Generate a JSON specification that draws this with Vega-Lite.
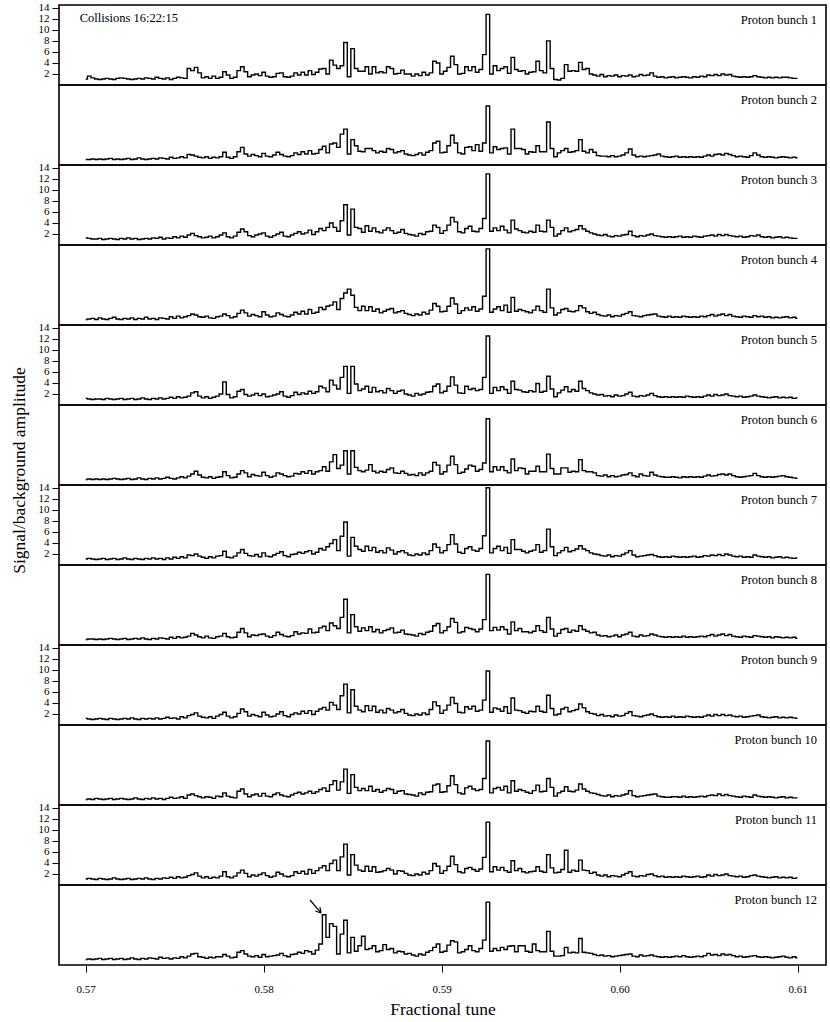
{
"$schema":"https://vega.github.io/schema/vega-lite/v6.json",
"background":"white",
"padding":{"left":9,"top":0,"right":3,"bottom":4},
"bounds":"flush",
"spacing":0,
"config":{"font":"Liberation Serif","view":{"stroke":"black","strokeWidth":1.6},
"axis":{"labelFont":"Liberation Serif","titleFont":"Liberation Serif","labelColor":"black","titleColor":"black","tickColor":"black","domain":false,"grid":false,"labelFontSize":11,"tickSize":7,"labelPadding":3,"titleFontWeight":"normal","titleFontSize":17.5,"labelOverlap":false,"labelBound":false},
"text":{"font":"Liberation Serif","color":"black","fontSize":12.5}},
"datasets":{"d":[
{"x":0.5700,"p1":1.1,"p2":1.0,"p3":1.3,"p4":1.0,"p5":1.2,"p6":1.0,"p7":1.1,"p8":1.0,"p9":1.2,"p10":1.0,"p11":1.1,"p12":1.0},
{"x":0.5702,"p1":1.6,"p2":1.0,"p3":1.2,"p4":1.1,"p5":1.1,"p6":1.1,"p7":1.2,"p8":1.1,"p9":1.1,"p10":1.1,"p11":1.2,"p12":1.1},
{"x":0.5704,"p1":1.3,"p2":1.1,"p3":1.1,"p4":1.2,"p5":1.0,"p6":1.0,"p7":1.1,"p8":1.1,"p9":1.0,"p10":1.0,"p11":1.1,"p12":1.0},
{"x":0.5706,"p1":1.1,"p2":1.0,"p3":1.1,"p4":1.0,"p5":1.1,"p6":1.1,"p7":1.0,"p8":1.0,"p9":1.1,"p10":1.2,"p11":1.0,"p12":1.1},
{"x":0.5708,"p1":1.0,"p2":1.1,"p3":1.2,"p4":1.3,"p5":1.1,"p6":1.0,"p7":1.1,"p8":1.1,"p9":1.2,"p10":1.1,"p11":1.2,"p12":1.2},
{"x":0.5710,"p1":1.1,"p2":1.0,"p3":1.0,"p4":1.1,"p5":1.0,"p6":1.1,"p7":1.2,"p8":1.0,"p9":1.1,"p10":1.0,"p11":1.1,"p12":1.0},
{"x":0.5712,"p1":1.2,"p2":1.1,"p3":1.1,"p4":1.0,"p5":1.2,"p6":1.0,"p7":1.0,"p8":1.1,"p9":1.0,"p10":1.1,"p11":1.0,"p12":1.1},
{"x":0.5714,"p1":1.1,"p2":1.2,"p3":1.2,"p4":1.2,"p5":1.1,"p6":1.1,"p7":1.1,"p8":1.2,"p9":1.2,"p10":1.2,"p11":1.1,"p12":1.2},
{"x":0.5716,"p1":1.0,"p2":1.0,"p3":1.1,"p4":1.4,"p5":1.0,"p6":1.2,"p7":1.2,"p8":1.1,"p9":1.1,"p10":1.0,"p11":1.3,"p12":1.0},
{"x":0.5718,"p1":1.2,"p2":1.1,"p3":1.0,"p4":1.1,"p5":1.1,"p6":1.1,"p7":1.0,"p8":1.0,"p9":1.0,"p10":1.1,"p11":1.1,"p12":1.1},
{"x":0.5720,"p1":1.3,"p2":1.0,"p3":1.2,"p4":1.0,"p5":1.2,"p6":1.0,"p7":1.1,"p8":1.1,"p9":1.1,"p10":1.2,"p11":1.0,"p12":1.2},
{"x":0.5722,"p1":1.2,"p2":1.1,"p3":1.1,"p4":1.2,"p5":1.0,"p6":1.1,"p7":1.3,"p8":1.2,"p9":1.2,"p10":1.1,"p11":1.1,"p12":1.0},
{"x":0.5724,"p1":1.1,"p2":1.2,"p3":1.3,"p4":1.1,"p5":1.1,"p6":1.2,"p7":1.1,"p8":1.0,"p9":1.1,"p10":1.0,"p11":1.2,"p12":1.1},
{"x":0.5726,"p1":1.0,"p2":1.0,"p3":1.1,"p4":1.3,"p5":1.2,"p6":1.0,"p7":1.0,"p8":1.1,"p9":1.3,"p10":1.1,"p11":1.0,"p12":1.3},
{"x":0.5728,"p1":1.1,"p2":1.1,"p3":1.2,"p4":1.0,"p5":1.0,"p6":1.1,"p7":1.2,"p8":1.2,"p9":1.1,"p10":1.3,"p11":1.1,"p12":1.1},
{"x":0.5730,"p1":1.2,"p2":1.3,"p3":1.0,"p4":1.2,"p5":1.1,"p6":1.3,"p7":1.1,"p8":1.1,"p9":1.0,"p10":1.1,"p11":1.2,"p12":1.0},
{"x":0.5732,"p1":1.1,"p2":1.1,"p3":1.1,"p4":1.1,"p5":1.3,"p6":1.1,"p7":1.0,"p8":1.3,"p9":1.2,"p10":1.0,"p11":1.1,"p12":1.2},
{"x":0.5734,"p1":1.3,"p2":1.0,"p3":1.2,"p4":1.4,"p5":1.1,"p6":1.0,"p7":1.2,"p8":1.1,"p9":1.1,"p10":1.2,"p11":1.3,"p12":1.1},
{"x":0.5736,"p1":1.2,"p2":1.1,"p3":1.1,"p4":1.1,"p5":1.0,"p6":1.2,"p7":1.1,"p8":1.0,"p9":1.2,"p10":1.1,"p11":1.1,"p12":1.3},
{"x":0.5738,"p1":1.1,"p2":1.2,"p3":1.3,"p4":1.2,"p5":1.2,"p6":1.1,"p7":1.3,"p8":1.2,"p9":1.1,"p10":1.3,"p11":1.0,"p12":1.2},
{"x":0.5740,"p1":1.4,"p2":1.1,"p3":1.2,"p4":1.0,"p5":1.1,"p6":1.3,"p7":1.1,"p8":1.1,"p9":1.3,"p10":1.1,"p11":1.2,"p12":1.1},
{"x":0.5742,"p1":1.2,"p2":1.3,"p3":1.4,"p4":1.3,"p5":1.3,"p6":1.1,"p7":1.2,"p8":1.3,"p9":1.1,"p10":1.2,"p11":1.1,"p12":1.4},
{"x":0.5744,"p1":1.1,"p2":1.2,"p3":1.1,"p4":1.2,"p5":1.1,"p6":1.2,"p7":1.0,"p8":1.2,"p9":1.2,"p10":1.0,"p11":1.3,"p12":1.2},
{"x":0.5746,"p1":1.3,"p2":1.1,"p3":1.3,"p4":1.1,"p5":1.2,"p6":1.4,"p7":1.3,"p8":1.1,"p9":1.4,"p10":1.2,"p11":1.2,"p12":1.3},
{"x":0.5748,"p1":1.0,"p2":1.4,"p3":1.2,"p4":1.5,"p5":1.4,"p6":1.2,"p7":1.1,"p8":1.4,"p9":1.2,"p10":1.4,"p11":1.4,"p12":1.1},
{"x":0.5750,"p1":1.2,"p2":1.2,"p3":1.5,"p4":1.2,"p5":1.2,"p6":1.1,"p7":1.4,"p8":1.2,"p9":1.3,"p10":1.2,"p11":1.2,"p12":1.3},
{"x":0.5752,"p1":1.4,"p2":1.3,"p3":1.3,"p4":1.6,"p5":1.5,"p6":1.3,"p7":1.2,"p8":1.5,"p9":1.1,"p10":1.3,"p11":1.5,"p12":1.2},
{"x":0.5754,"p1":1.3,"p2":1.5,"p3":1.6,"p4":1.3,"p5":1.3,"p6":1.5,"p7":1.5,"p8":1.3,"p9":1.5,"p10":1.5,"p11":1.3,"p12":1.5},
{"x":0.5756,"p1":1.2,"p2":1.3,"p3":1.4,"p4":1.5,"p5":1.4,"p6":1.3,"p7":1.3,"p8":1.4,"p9":1.3,"p10":1.2,"p11":1.4,"p12":1.3},
{"x":0.5758,"p1":3.0,"p2":1.9,"p3":1.8,"p4":1.7,"p5":1.6,"p6":1.6,"p7":1.8,"p8":1.6,"p9":1.7,"p10":1.8,"p11":1.7,"p12":1.6},
{"x":0.5760,"p1":2.6,"p2":1.8,"p3":2.1,"p4":2.0,"p5":2.2,"p6":2.0,"p7":1.7,"p8":2.1,"p9":1.9,"p10":2.0,"p11":1.9,"p12":2.0},
{"x":0.5762,"p1":3.2,"p2":1.6,"p3":1.7,"p4":1.8,"p5":2.4,"p6":2.5,"p7":2.0,"p8":1.8,"p9":2.2,"p10":1.7,"p11":2.2,"p12":2.1},
{"x":0.5764,"p1":2.2,"p2":1.4,"p3":1.5,"p4":1.5,"p5":1.6,"p6":1.8,"p7":1.6,"p8":1.5,"p9":1.6,"p10":1.5,"p11":1.6,"p12":1.5},
{"x":0.5766,"p1":1.3,"p2":1.3,"p3":1.3,"p4":1.4,"p5":1.3,"p6":1.4,"p7":1.4,"p8":1.3,"p9":1.4,"p10":1.3,"p11":1.3,"p12":1.4},
{"x":0.5768,"p1":1.5,"p2":1.5,"p3":1.4,"p4":1.6,"p5":1.5,"p6":1.3,"p7":1.2,"p8":1.6,"p9":1.3,"p10":1.5,"p11":1.5,"p12":1.2},
{"x":0.5770,"p1":1.2,"p2":1.2,"p3":1.6,"p4":1.3,"p5":1.2,"p6":1.5,"p7":1.5,"p8":1.3,"p9":1.5,"p10":1.4,"p11":1.2,"p12":1.4},
{"x":0.5772,"p1":1.6,"p2":1.4,"p3":1.3,"p4":1.2,"p5":1.4,"p6":1.2,"p7":1.3,"p8":1.2,"p9":1.2,"p10":1.2,"p11":1.4,"p12":1.3},
{"x":0.5774,"p1":1.2,"p2":1.3,"p3":1.5,"p4":1.5,"p5":1.6,"p6":1.4,"p7":1.6,"p8":1.5,"p9":1.6,"p10":1.6,"p11":1.3,"p12":1.5},
{"x":0.5776,"p1":1.4,"p2":1.5,"p3":1.8,"p4":1.6,"p5":2.0,"p6":1.5,"p7":1.7,"p8":1.6,"p9":1.9,"p10":1.5,"p11":1.6,"p12":1.5},
{"x":0.5778,"p1":2.4,"p2":2.3,"p3":2.2,"p4":2.0,"p5":4.2,"p6":2.4,"p7":2.5,"p8":2.1,"p9":2.3,"p10":2.2,"p11":2.4,"p12":1.9},
{"x":0.5780,"p1":1.8,"p2":1.4,"p3":1.5,"p4":1.7,"p5":1.9,"p6":1.7,"p7":1.4,"p8":1.5,"p9":1.6,"p10":1.6,"p11":1.5,"p12":1.6},
{"x":0.5782,"p1":1.2,"p2":1.2,"p3":1.3,"p4":1.3,"p5":1.3,"p6":1.3,"p7":1.3,"p8":1.3,"p9":1.3,"p10":1.4,"p11":1.3,"p12":1.3},
{"x":0.5784,"p1":1.4,"p2":1.5,"p3":1.6,"p4":1.5,"p5":1.5,"p6":1.4,"p7":1.6,"p8":1.4,"p9":1.5,"p10":1.3,"p11":1.6,"p12":1.4},
{"x":0.5786,"p1":2.6,"p2":2.4,"p3":2.3,"p4":2.1,"p5":2.5,"p6":2.0,"p7":2.2,"p8":2.3,"p9":2.1,"p10":2.5,"p11":2.2,"p12":2.3},
{"x":0.5788,"p1":3.3,"p2":3.2,"p3":2.9,"p4":2.7,"p5":2.8,"p6":2.6,"p7":2.8,"p8":3.0,"p9":2.9,"p10":2.9,"p11":2.7,"p12":2.6},
{"x":0.5790,"p1":2.4,"p2":2.0,"p3":2.4,"p4":2.2,"p5":1.9,"p6":2.2,"p7":2.1,"p8":2.2,"p9":2.4,"p10":2.0,"p11":2.1,"p12":2.0},
{"x":0.5792,"p1":1.5,"p2":1.6,"p3":1.7,"p4":1.6,"p5":1.6,"p6":1.5,"p7":1.7,"p8":1.5,"p9":1.6,"p10":1.5,"p11":1.5,"p12":1.6},
{"x":0.5794,"p1":1.8,"p2":1.9,"p3":1.5,"p4":1.9,"p5":1.8,"p6":1.9,"p7":1.6,"p8":1.8,"p9":1.9,"p10":1.8,"p11":1.8,"p12":1.5},
{"x":0.5796,"p1":2.0,"p2":1.7,"p3":1.8,"p4":1.7,"p5":2.1,"p6":1.7,"p7":1.9,"p8":1.7,"p9":1.7,"p10":2.0,"p11":1.6,"p12":1.7},
{"x":0.5798,"p1":1.7,"p2":1.5,"p3":2.0,"p4":1.5,"p5":1.7,"p6":1.6,"p7":1.5,"p8":1.9,"p9":1.5,"p10":1.6,"p11":1.9,"p12":1.4},
{"x":0.5800,"p1":2.3,"p2":2.1,"p3":2.2,"p4":2.4,"p5":2.0,"p6":2.3,"p7":2.2,"p8":2.0,"p9":2.3,"p10":2.1,"p11":2.2,"p12":1.9},
{"x":0.5802,"p1":1.6,"p2":1.6,"p3":1.6,"p4":1.8,"p5":1.5,"p6":1.7,"p7":1.6,"p8":1.6,"p9":1.8,"p10":1.6,"p11":1.7,"p12":1.5},
{"x":0.5804,"p1":1.4,"p2":1.5,"p3":1.4,"p4":1.5,"p5":1.6,"p6":1.4,"p7":1.5,"p8":1.4,"p9":1.5,"p10":1.5,"p11":1.4,"p12":1.6},
{"x":0.5806,"p1":1.5,"p2":1.8,"p3":1.7,"p4":1.6,"p5":1.8,"p6":1.6,"p7":1.8,"p8":1.7,"p9":1.6,"p10":1.9,"p11":1.6,"p12":1.7},
{"x":0.5808,"p1":2.1,"p2":2.3,"p3":2.0,"p4":2.2,"p5":2.0,"p6":2.2,"p7":2.1,"p8":2.3,"p9":2.0,"p10":2.2,"p11":2.3,"p12":1.8},
{"x":0.5810,"p1":2.2,"p2":1.9,"p3":2.3,"p4":1.9,"p5":2.4,"p6":2.0,"p7":2.4,"p8":1.9,"p9":2.4,"p10":1.8,"p11":2.0,"p12":2.1},
{"x":0.5812,"p1":1.5,"p2":1.6,"p3":1.6,"p4":1.6,"p5":1.6,"p6":1.7,"p7":1.7,"p8":1.6,"p9":1.7,"p10":1.6,"p11":1.6,"p12":1.7},
{"x":0.5814,"p1":1.4,"p2":1.5,"p3":1.5,"p4":1.5,"p5":1.4,"p6":1.5,"p7":1.5,"p8":1.5,"p9":1.5,"p10":1.5,"p11":1.5,"p12":1.5},
{"x":0.5816,"p1":1.6,"p2":1.7,"p3":1.8,"p4":1.8,"p5":1.7,"p6":1.6,"p7":1.9,"p8":1.7,"p9":1.9,"p10":1.8,"p11":1.7,"p12":1.9},
{"x":0.5818,"p1":2.2,"p2":2.2,"p3":2.1,"p4":2.3,"p5":2.3,"p6":2.1,"p7":2.0,"p8":2.4,"p9":2.2,"p10":2.1,"p11":2.4,"p12":2.0},
{"x":0.5820,"p1":1.8,"p2":1.9,"p3":2.4,"p4":2.0,"p5":1.9,"p6":2.0,"p7":2.3,"p8":2.0,"p9":2.0,"p10":2.3,"p11":2.1,"p12":2.3},
{"x":0.5822,"p1":2.3,"p2":2.4,"p3":2.0,"p4":2.5,"p5":2.2,"p6":2.4,"p7":2.1,"p8":2.2,"p9":2.5,"p10":2.0,"p11":2.5,"p12":2.1},
{"x":0.5824,"p1":1.8,"p2":2.0,"p3":2.2,"p4":2.0,"p5":2.0,"p6":2.1,"p7":2.4,"p8":2.1,"p9":2.1,"p10":2.2,"p11":2.0,"p12":2.6},
{"x":0.5826,"p1":2.6,"p2":2.6,"p3":2.7,"p4":2.8,"p5":2.5,"p6":2.6,"p7":2.6,"p8":2.9,"p9":2.6,"p10":2.5,"p11":2.8,"p12":2.4},
{"x":0.5828,"p1":1.9,"p2":2.0,"p3":1.9,"p4":2.1,"p5":2.1,"p6":2.0,"p7":2.0,"p8":2.2,"p9":1.9,"p10":2.1,"p11":2.1,"p12":2.0},
{"x":0.5830,"p1":2.3,"p2":2.1,"p3":2.4,"p4":2.3,"p5":2.4,"p6":2.4,"p7":2.3,"p8":2.3,"p9":2.5,"p10":2.4,"p11":2.6,"p12":2.7},
{"x":0.5832,"p1":2.9,"p2":2.8,"p3":3.0,"p4":3.2,"p5":3.4,"p6":2.6,"p7":3.0,"p8":3.1,"p9":2.9,"p10":2.8,"p11":3.1,"p12":3.8},
{"x":0.5834,"p1":3.0,"p2":3.4,"p3":2.6,"p4":2.8,"p5":3.1,"p6":3.3,"p7":2.7,"p8":3.4,"p9":3.2,"p10":3.1,"p11":3.5,"p12":9.1},
{"x":0.5836,"p1":2.0,"p2":2.2,"p3":3.2,"p4":3.4,"p5":2.4,"p6":2.5,"p7":3.3,"p8":2.6,"p9":2.7,"p10":2.5,"p11":2.6,"p12":5.0},
{"x":0.5838,"p1":4.5,"p2":3.8,"p3":4.0,"p4":3.6,"p5":4.5,"p6":4.2,"p7":3.9,"p8":4.0,"p9":4.1,"p10":3.7,"p11":3.9,"p12":7.5},
{"x":0.5840,"p1":3.6,"p2":4.0,"p3":3.2,"p4":4.2,"p5":3.6,"p6":5.5,"p7":4.6,"p8":3.5,"p9":3.6,"p10":4.4,"p11":4.5,"p12":7.0},
{"x":0.5842,"p1":3.0,"p2":3.2,"p3":2.5,"p4":2.8,"p5":2.9,"p6":3.0,"p7":2.6,"p8":3.0,"p9":2.8,"p10":2.7,"p11":2.6,"p12":2.0},
{"x":0.5844,"p1":3.5,"p2":5.6,"p3":4.4,"p4":4.8,"p5":5.0,"p6":3.6,"p7":5.2,"p8":5.0,"p9":5.3,"p10":4.2,"p11":5.1,"p12":5.6},
{"x":0.5846,"p1":7.7,"p2":6.5,"p3":7.3,"p4":5.8,"p5":7.0,"p6":6.2,"p7":7.8,"p8":8.3,"p9":7.4,"p10":6.5,"p11":7.4,"p12":8.1},
{"x":0.5848,"p1":1.5,"p2":2.0,"p3":1.8,"p4":6.5,"p5":2.1,"p6":2.0,"p7":1.6,"p8":2.2,"p9":2.2,"p10":2.1,"p11":1.8,"p12":2.2},
{"x":0.5850,"p1":6.6,"p2":4.6,"p3":6.5,"p4":5.4,"p5":7.0,"p6":6.2,"p7":5.0,"p8":5.5,"p9":6.4,"p10":5.5,"p11":5.5,"p12":5.0},
{"x":0.5852,"p1":3.0,"p2":3.5,"p3":3.2,"p4":3.2,"p5":3.8,"p6":3.2,"p7":3.4,"p8":3.3,"p9":3.4,"p10":3.2,"p11":3.6,"p12":2.5},
{"x":0.5854,"p1":2.5,"p2":2.5,"p3":3.0,"p4":2.6,"p5":2.6,"p6":2.6,"p7":2.8,"p8":2.5,"p9":2.7,"p10":2.6,"p11":2.7,"p12":3.5},
{"x":0.5856,"p1":2.5,"p2":2.4,"p3":2.3,"p4":3.4,"p5":2.9,"p6":2.4,"p7":2.5,"p8":3.1,"p9":2.4,"p10":3.0,"p11":2.5,"p12":5.2},
{"x":0.5858,"p1":3.3,"p2":3.0,"p3":3.5,"p4":2.6,"p5":3.4,"p6":2.7,"p7":3.4,"p8":2.6,"p9":3.5,"p10":2.6,"p11":3.4,"p12":2.8},
{"x":0.5860,"p1":2.0,"p2":3.0,"p3":2.5,"p4":3.3,"p5":2.3,"p6":3.7,"p7":2.6,"p8":3.3,"p9":2.6,"p10":3.4,"p11":2.5,"p12":3.0},
{"x":0.5862,"p1":3.3,"p2":2.6,"p3":3.1,"p4":2.5,"p5":3.2,"p6":2.5,"p7":3.2,"p8":2.4,"p9":3.4,"p10":2.5,"p11":3.3,"p12":3.5},
{"x":0.5864,"p1":2.2,"p2":2.2,"p3":2.4,"p4":2.9,"p5":2.4,"p6":2.2,"p7":2.3,"p8":2.8,"p9":2.3,"p10":2.8,"p11":2.3,"p12":2.4},
{"x":0.5866,"p1":2.4,"p2":2.5,"p3":2.2,"p4":2.2,"p5":2.6,"p6":2.5,"p7":2.6,"p8":2.2,"p9":2.7,"p10":2.3,"p11":2.4,"p12":2.6},
{"x":0.5868,"p1":2.2,"p2":2.3,"p3":2.7,"p4":2.5,"p5":2.2,"p6":2.3,"p7":2.2,"p8":2.6,"p9":2.2,"p10":2.6,"p11":2.6,"p12":3.7},
{"x":0.5870,"p1":3.3,"p2":3.0,"p3":3.1,"p4":2.8,"p5":3.0,"p6":2.8,"p7":3.1,"p8":2.8,"p9":3.0,"p10":3.0,"p11":3.0,"p12":2.8},
{"x":0.5872,"p1":3.0,"p2":2.8,"p3":2.6,"p4":3.0,"p5":2.6,"p6":3.1,"p7":2.7,"p8":3.1,"p9":2.7,"p10":2.8,"p11":2.7,"p12":3.0},
{"x":0.5874,"p1":2.0,"p2":2.2,"p3":2.1,"p4":2.2,"p5":2.1,"p6":2.2,"p7":2.0,"p8":2.2,"p9":2.2,"p10":2.1,"p11":2.0,"p12":2.2},
{"x":0.5876,"p1":2.1,"p2":2.4,"p3":2.3,"p4":2.4,"p5":2.5,"p6":2.1,"p7":2.4,"p8":2.3,"p9":2.4,"p10":2.5,"p11":2.6,"p12":2.5},
{"x":0.5878,"p1":2.7,"p2":2.6,"p3":2.8,"p4":2.6,"p5":2.7,"p6":2.5,"p7":2.6,"p8":2.7,"p9":2.8,"p10":2.6,"p11":2.5,"p12":2.4},
{"x":0.5880,"p1":2.0,"p2":2.0,"p3":2.1,"p4":2.1,"p5":2.0,"p6":2.1,"p7":2.2,"p8":2.0,"p9":2.1,"p10":2.0,"p11":2.1,"p12":2.0},
{"x":0.5882,"p1":2.0,"p2":1.8,"p3":1.9,"p4":1.9,"p5":1.8,"p6":1.8,"p7":1.8,"p8":1.9,"p9":1.8,"p10":1.9,"p11":1.8,"p12":2.1},
{"x":0.5884,"p1":1.6,"p2":1.7,"p3":1.8,"p4":1.7,"p5":1.6,"p6":1.9,"p7":1.7,"p8":1.8,"p9":1.7,"p10":1.8,"p11":1.7,"p12":1.8},
{"x":0.5886,"p1":2.0,"p2":1.9,"p3":1.6,"p4":2.0,"p5":2.1,"p6":1.7,"p7":2.0,"p8":1.6,"p9":2.0,"p10":1.6,"p11":2.0,"p12":1.6},
{"x":0.5888,"p1":1.7,"p2":2.2,"p3":2.1,"p4":1.8,"p5":1.8,"p6":2.2,"p7":1.8,"p8":2.1,"p9":1.8,"p10":2.2,"p11":1.8,"p12":2.0},
{"x":0.5890,"p1":2.3,"p2":1.8,"p3":1.9,"p4":2.3,"p5":2.0,"p6":1.8,"p7":2.2,"p8":1.9,"p9":2.2,"p10":1.9,"p11":2.3,"p12":1.8},
{"x":0.5892,"p1":1.8,"p2":2.3,"p3":2.4,"p4":2.0,"p5":2.3,"p6":2.2,"p7":1.9,"p8":2.3,"p9":1.9,"p10":2.3,"p11":2.0,"p12":2.3},
{"x":0.5894,"p1":2.2,"p2":2.6,"p3":2.5,"p4":2.7,"p5":2.4,"p6":2.5,"p7":2.6,"p8":2.5,"p9":2.8,"p10":2.4,"p11":2.6,"p12":2.6},
{"x":0.5896,"p1":4.3,"p2":4.0,"p3":3.6,"p4":3.9,"p5":3.4,"p6":4.1,"p7":3.8,"p8":3.5,"p9":4.2,"p10":3.6,"p11":3.9,"p12":3.2},
{"x":0.5898,"p1":4.0,"p2":4.3,"p3":3.2,"p4":3.4,"p5":3.8,"p6":3.6,"p7":3.2,"p8":3.9,"p9":3.5,"p10":3.8,"p11":3.4,"p12":3.8},
{"x":0.5900,"p1":2.0,"p2":2.2,"p3":2.1,"p4":2.4,"p5":2.2,"p6":2.0,"p7":2.2,"p8":2.2,"p9":2.1,"p10":2.3,"p11":2.1,"p12":2.3},
{"x":0.5902,"p1":2.5,"p2":2.3,"p3":2.6,"p4":2.5,"p5":2.5,"p6":2.4,"p7":2.6,"p8":2.6,"p9":2.7,"p10":2.4,"p11":2.6,"p12":2.5},
{"x":0.5904,"p1":3.2,"p2":3.5,"p3":3.6,"p4":3.4,"p5":3.4,"p6":3.6,"p7":3.7,"p8":3.3,"p9":3.6,"p10":3.5,"p11":3.4,"p12":3.6},
{"x":0.5906,"p1":5.2,"p2":5.4,"p3":5.0,"p4":4.9,"p5":5.1,"p6":5.2,"p7":5.5,"p8":4.8,"p9":5.0,"p10":5.3,"p11":5.2,"p12":4.4},
{"x":0.5908,"p1":3.7,"p2":4.0,"p3":4.2,"p4":3.8,"p5":3.6,"p6":3.7,"p7":3.8,"p8":4.1,"p9":3.9,"p10":3.7,"p11":3.7,"p12":4.2},
{"x":0.5910,"p1":2.0,"p2":2.2,"p3":2.4,"p4":2.1,"p5":2.2,"p6":2.1,"p7":2.3,"p8":2.2,"p9":2.3,"p10":2.2,"p11":2.4,"p12":2.2},
{"x":0.5912,"p1":2.1,"p2":2.0,"p3":2.2,"p4":2.6,"p5":2.1,"p6":2.3,"p7":2.1,"p8":2.4,"p9":2.2,"p10":2.0,"p11":2.2,"p12":2.4},
{"x":0.5914,"p1":3.3,"p2":3.2,"p3":3.0,"p4":3.1,"p5":3.4,"p6":2.9,"p7":3.0,"p8":3.2,"p9":3.3,"p10":3.1,"p11":3.0,"p12":2.8},
{"x":0.5916,"p1":2.6,"p2":3.3,"p3":3.4,"p4":2.7,"p5":2.8,"p6":3.6,"p7":3.3,"p8":3.0,"p9":2.9,"p10":3.4,"p11":3.2,"p12":3.5},
{"x":0.5918,"p1":3.3,"p2":2.6,"p3":2.5,"p4":3.3,"p5":3.0,"p6":3.4,"p7":2.7,"p8":2.8,"p9":3.4,"p10":2.9,"p11":2.8,"p12":2.6},
{"x":0.5920,"p1":2.3,"p2":3.7,"p3":2.4,"p4":2.5,"p5":2.6,"p6":2.5,"p7":2.5,"p8":2.4,"p9":2.5,"p10":2.6,"p11":2.5,"p12":2.4},
{"x":0.5922,"p1":2.8,"p2":2.5,"p3":3.0,"p4":2.9,"p5":2.8,"p6":2.8,"p7":3.0,"p8":2.9,"p9":2.7,"p10":2.8,"p11":2.9,"p12":3.0},
{"x":0.5924,"p1":5.5,"p2":4.0,"p3":4.8,"p4":5.2,"p5":5.0,"p6":4.0,"p7":5.3,"p8":4.6,"p9":4.5,"p10":4.8,"p11":5.0,"p12":4.5},
{"x":0.5926,"p1":12.8,"p2":10.7,"p3":12.9,"p4":13.8,"p5":12.5,"p6":12.0,"p7":14.0,"p8":12.8,"p9":9.8,"p10":11.6,"p11":11.4,"p12":11.4},
{"x":0.5928,"p1":2.0,"p2":2.2,"p3":2.5,"p4":2.3,"p5":2.1,"p6":2.4,"p7":2.2,"p8":2.6,"p9":2.3,"p10":2.2,"p11":2.4,"p12":2.5},
{"x":0.5930,"p1":3.5,"p2":3.3,"p3":3.1,"p4":2.9,"p5":3.2,"p6":3.3,"p7":3.0,"p8":3.2,"p9":3.1,"p10":3.0,"p11":3.3,"p12":3.0},
{"x":0.5932,"p1":2.6,"p2":2.8,"p3":2.6,"p4":3.3,"p5":2.6,"p6":2.7,"p7":3.4,"p8":2.7,"p9":2.9,"p10":3.2,"p11":2.7,"p12":2.6},
{"x":0.5934,"p1":3.0,"p2":3.0,"p3":3.4,"p4":2.6,"p5":3.3,"p6":3.3,"p7":2.6,"p8":3.3,"p9":2.5,"p10":2.7,"p11":3.2,"p12":3.2},
{"x":0.5936,"p1":3.3,"p2":3.1,"p3":2.7,"p4":3.6,"p5":2.8,"p6":2.6,"p7":3.2,"p8":2.8,"p9":3.3,"p10":3.4,"p11":2.6,"p12":2.8},
{"x":0.5938,"p1":2.1,"p2":2.0,"p3":2.2,"p4":2.3,"p5":2.1,"p6":2.2,"p7":2.1,"p8":2.0,"p9":2.1,"p10":2.2,"p11":2.3,"p12":3.4},
{"x":0.5940,"p1":5.0,"p2":6.5,"p3":4.5,"p4":5.0,"p5":4.3,"p6":4.7,"p7":4.6,"p8":4.2,"p9":4.9,"p10":4.4,"p11":4.4,"p12":3.5},
{"x":0.5942,"p1":2.8,"p2":3.0,"p3":2.9,"p4":2.5,"p5":2.8,"p6":2.6,"p7":2.8,"p8":2.6,"p9":2.7,"p10":2.5,"p11":2.6,"p12":2.4},
{"x":0.5944,"p1":2.5,"p2":3.0,"p3":2.6,"p4":2.8,"p5":2.7,"p6":3.1,"p7":2.8,"p8":3.0,"p9":2.6,"p10":2.8,"p11":3.0,"p12":3.5},
{"x":0.5946,"p1":2.6,"p2":2.8,"p3":2.3,"p4":2.6,"p5":2.4,"p6":3.0,"p7":2.5,"p8":2.4,"p9":2.3,"p10":2.6,"p11":2.4,"p12":3.5},
{"x":0.5948,"p1":2.0,"p2":2.0,"p3":2.2,"p4":2.4,"p5":2.3,"p6":2.0,"p7":2.2,"p8":2.4,"p9":2.1,"p10":2.3,"p11":2.2,"p12":2.5},
{"x":0.5950,"p1":2.3,"p2":2.4,"p3":2.5,"p4":2.2,"p5":2.6,"p6":2.5,"p7":2.5,"p8":2.2,"p9":2.5,"p10":2.1,"p11":2.4,"p12":2.3},
{"x":0.5952,"p1":2.4,"p2":2.3,"p3":2.3,"p4":2.7,"p5":2.4,"p6":2.5,"p7":2.7,"p8":2.5,"p9":2.4,"p10":2.6,"p11":2.5,"p12":3.8},
{"x":0.5954,"p1":4.3,"p2":3.5,"p3":3.6,"p4":3.4,"p5":3.9,"p6":3.4,"p7":3.7,"p8":3.5,"p9":3.4,"p10":3.6,"p11":3.3,"p12":2.6},
{"x":0.5956,"p1":2.6,"p2":2.4,"p3":2.5,"p4":2.6,"p5":2.3,"p6":2.4,"p7":2.3,"p8":2.6,"p9":2.5,"p10":2.4,"p11":2.5,"p12":2.4},
{"x":0.5958,"p1":2.2,"p2":2.4,"p3":2.4,"p4":2.3,"p5":2.5,"p6":2.4,"p7":2.6,"p8":2.3,"p9":2.3,"p10":2.5,"p11":2.3,"p12":2.4},
{"x":0.5960,"p1":8.0,"p2":7.8,"p3":4.5,"p4":6.5,"p5":5.2,"p6":5.6,"p7":6.5,"p8":5.0,"p9":5.4,"p10":4.8,"p11":5.5,"p12":6.1},
{"x":0.5962,"p1":3.0,"p2":3.0,"p3":3.2,"p4":3.1,"p5":2.9,"p6":3.0,"p7":3.3,"p8":2.9,"p9":3.0,"p10":3.2,"p11":3.1,"p12":2.5},
{"x":0.5964,"p1":1.0,"p2":1.5,"p3":1.6,"p4":1.8,"p5":1.5,"p6":2.0,"p7":1.7,"p8":1.6,"p9":1.8,"p10":1.6,"p11":2.2,"p12":1.6},
{"x":0.5966,"p1":0.9,"p2":2.2,"p3":2.0,"p4":2.2,"p5":2.2,"p6":2.0,"p7":2.2,"p8":2.1,"p9":2.0,"p10":2.2,"p11":2.3,"p12":1.6},
{"x":0.5968,"p1":1.2,"p2":2.6,"p3":2.6,"p4":2.8,"p5":2.7,"p6":3.1,"p7":2.6,"p8":2.8,"p9":2.9,"p10":2.5,"p11":2.8,"p12":1.7},
{"x":0.5970,"p1":3.7,"p2":3.0,"p3":3.1,"p4":3.0,"p5":3.3,"p6":3.1,"p7":3.2,"p8":3.0,"p9":3.2,"p10":3.3,"p11":6.3,"p12":3.2},
{"x":0.5972,"p1":2.5,"p2":2.3,"p3":2.4,"p4":2.5,"p5":2.4,"p6":2.3,"p7":2.4,"p8":2.3,"p9":2.4,"p10":2.5,"p11":2.3,"p12":2.2},
{"x":0.5974,"p1":2.6,"p2":2.4,"p3":2.6,"p4":2.4,"p5":2.8,"p6":2.5,"p7":2.6,"p8":2.7,"p9":2.6,"p10":2.4,"p11":2.7,"p12":2.3},
{"x":0.5976,"p1":2.5,"p2":2.6,"p3":2.8,"p4":2.6,"p5":2.5,"p6":2.4,"p7":2.9,"p8":2.5,"p9":2.8,"p10":2.7,"p11":2.5,"p12":2.2},
{"x":0.5978,"p1":4.1,"p2":4.6,"p3":3.5,"p4":3.5,"p5":4.3,"p6":4.6,"p7":3.5,"p8":3.5,"p9":3.8,"p10":3.8,"p11":4.5,"p12":4.8},
{"x":0.5980,"p1":2.8,"p2":2.5,"p3":2.9,"p4":3.1,"p5":3.0,"p6":2.6,"p7":2.9,"p8":2.8,"p9":3.1,"p10":2.9,"p11":2.7,"p12":2.3},
{"x":0.5982,"p1":3.0,"p2":2.2,"p3":2.5,"p4":2.4,"p5":2.6,"p6":2.4,"p7":2.6,"p8":2.5,"p9":2.4,"p10":2.5,"p11":2.6,"p12":2.2},
{"x":0.5984,"p1":2.0,"p2":2.8,"p3":2.2,"p4":2.1,"p5":2.2,"p6":2.4,"p7":2.2,"p8":2.2,"p9":2.1,"p10":2.2,"p11":2.1,"p12":2.1},
{"x":0.5986,"p1":1.8,"p2":2.3,"p3":2.0,"p4":2.3,"p5":2.0,"p6":2.2,"p7":2.0,"p8":2.3,"p9":2.0,"p10":2.1,"p11":2.3,"p12":1.9},
{"x":0.5988,"p1":1.6,"p2":1.7,"p3":1.8,"p4":1.9,"p5":1.8,"p6":1.7,"p7":1.9,"p8":1.8,"p9":1.7,"p10":1.9,"p11":1.8,"p12":1.7},
{"x":0.5990,"p1":1.9,"p2":1.6,"p3":1.7,"p4":1.7,"p5":1.9,"p6":1.6,"p7":1.7,"p8":1.6,"p9":1.9,"p10":1.7,"p11":1.6,"p12":1.8},
{"x":0.5992,"p1":1.5,"p2":1.6,"p3":1.9,"p4":1.6,"p5":1.6,"p6":1.8,"p7":1.6,"p8":1.7,"p9":1.6,"p10":1.6,"p11":1.8,"p12":1.6},
{"x":0.5994,"p1":1.7,"p2":1.5,"p3":1.6,"p4":1.8,"p5":1.7,"p6":1.5,"p7":1.8,"p8":1.5,"p9":1.7,"p10":1.8,"p11":1.5,"p12":1.7},
{"x":0.5996,"p1":1.6,"p2":1.7,"p3":1.5,"p4":1.5,"p5":1.5,"p6":1.7,"p7":1.5,"p8":1.6,"p9":1.5,"p10":1.5,"p11":1.7,"p12":1.5},
{"x":0.5998,"p1":1.8,"p2":1.5,"p3":1.7,"p4":1.7,"p5":1.8,"p6":1.5,"p7":1.7,"p8":1.8,"p9":1.8,"p10":1.7,"p11":1.6,"p12":1.6},
{"x":0.6000,"p1":1.5,"p2":1.6,"p3":1.6,"p4":1.6,"p5":1.6,"p6":1.6,"p7":1.6,"p8":1.5,"p9":1.6,"p10":1.6,"p11":1.5,"p12":1.7},
{"x":0.6002,"p1":1.7,"p2":1.8,"p3":1.8,"p4":1.9,"p5":1.7,"p6":1.8,"p7":1.9,"p8":1.8,"p9":1.7,"p10":1.8,"p11":1.8,"p12":1.8},
{"x":0.6004,"p1":1.6,"p2":2.2,"p3":1.9,"p4":2.1,"p5":2.0,"p6":1.9,"p7":2.2,"p8":2.0,"p9":2.1,"p10":2.0,"p11":2.1,"p12":1.9},
{"x":0.6006,"p1":1.8,"p2":2.9,"p3":2.5,"p4":2.4,"p5":2.3,"p6":2.2,"p7":2.6,"p8":2.3,"p9":2.4,"p10":2.6,"p11":2.4,"p12":2.0},
{"x":0.6008,"p1":1.5,"p2":1.8,"p3":1.7,"p4":1.7,"p5":1.6,"p6":1.7,"p7":1.8,"p8":1.6,"p9":1.7,"p10":1.7,"p11":1.6,"p12":1.6},
{"x":0.6010,"p1":1.6,"p2":1.5,"p3":1.5,"p4":1.6,"p5":1.5,"p6":1.5,"p7":1.5,"p8":1.5,"p9":1.6,"p10":1.5,"p11":1.5,"p12":1.5},
{"x":0.6012,"p1":1.9,"p2":1.6,"p3":1.7,"p4":1.5,"p5":1.7,"p6":2.0,"p7":1.6,"p8":1.8,"p9":1.5,"p10":1.6,"p11":1.7,"p12":1.8},
{"x":0.6014,"p1":1.7,"p2":1.5,"p3":1.6,"p4":1.7,"p5":1.6,"p6":1.7,"p7":1.7,"p8":1.6,"p9":1.7,"p10":1.7,"p11":1.6,"p12":1.6},
{"x":0.6016,"p1":1.8,"p2":1.6,"p3":1.8,"p4":1.8,"p5":1.8,"p6":1.6,"p7":1.8,"p8":1.7,"p9":1.8,"p10":1.8,"p11":1.9,"p12":1.7},
{"x":0.6018,"p1":2.2,"p2":1.7,"p3":2.0,"p4":1.9,"p5":2.1,"p6":2.3,"p7":1.9,"p8":2.0,"p9":2.0,"p10":1.9,"p11":2.0,"p12":1.8},
{"x":0.6020,"p1":1.6,"p2":1.8,"p3":1.7,"p4":2.0,"p5":1.7,"p6":1.8,"p7":1.7,"p8":1.8,"p9":1.7,"p10":2.0,"p11":1.7,"p12":1.6},
{"x":0.6022,"p1":1.4,"p2":2.0,"p3":1.6,"p4":1.6,"p5":1.5,"p6":1.6,"p7":1.5,"p8":1.6,"p9":1.5,"p10":1.6,"p11":1.5,"p12":1.5},
{"x":0.6024,"p1":1.5,"p2":1.6,"p3":1.5,"p4":1.5,"p5":1.4,"p6":1.5,"p7":1.4,"p8":1.5,"p9":1.4,"p10":1.5,"p11":1.6,"p12":1.4},
{"x":0.6026,"p1":1.3,"p2":1.5,"p3":1.4,"p4":1.4,"p5":1.5,"p6":1.4,"p7":1.5,"p8":1.4,"p9":1.5,"p10":1.4,"p11":1.4,"p12":1.5},
{"x":0.6028,"p1":1.4,"p2":1.4,"p3":1.5,"p4":1.6,"p5":1.4,"p6":1.4,"p7":1.4,"p8":1.5,"p9":1.4,"p10":1.4,"p11":1.5,"p12":1.4},
{"x":0.6030,"p1":1.5,"p2":1.5,"p3":1.4,"p4":1.4,"p5":1.5,"p6":1.5,"p7":1.6,"p8":1.4,"p9":1.6,"p10":1.5,"p11":1.4,"p12":1.5},
{"x":0.6032,"p1":1.3,"p2":1.6,"p3":1.5,"p4":1.5,"p5":1.4,"p6":1.4,"p7":1.5,"p8":1.5,"p9":1.4,"p10":1.5,"p11":1.5,"p12":1.6},
{"x":0.6034,"p1":1.4,"p2":1.4,"p3":1.6,"p4":1.4,"p5":1.5,"p6":1.3,"p7":1.4,"p8":1.4,"p9":1.5,"p10":1.4,"p11":1.4,"p12":1.5},
{"x":0.6036,"p1":1.5,"p2":1.5,"p3":1.4,"p4":1.6,"p5":1.4,"p6":1.5,"p7":1.5,"p8":1.6,"p9":1.4,"p10":1.6,"p11":1.6,"p12":1.7},
{"x":0.6038,"p1":1.4,"p2":1.4,"p3":1.5,"p4":1.5,"p5":1.6,"p6":1.4,"p7":1.4,"p8":1.4,"p9":1.6,"p10":1.4,"p11":1.5,"p12":1.5},
{"x":0.6040,"p1":1.3,"p2":1.5,"p3":1.4,"p4":1.4,"p5":1.5,"p6":1.5,"p7":1.5,"p8":1.5,"p9":1.5,"p10":1.5,"p11":1.4,"p12":1.4},
{"x":0.6042,"p1":1.5,"p2":1.4,"p3":1.6,"p4":1.5,"p5":1.4,"p6":1.4,"p7":1.6,"p8":1.4,"p9":1.4,"p10":1.4,"p11":1.5,"p12":1.5},
{"x":0.6044,"p1":1.4,"p2":1.5,"p3":1.5,"p4":1.4,"p5":1.5,"p6":1.5,"p7":1.4,"p8":1.5,"p9":1.5,"p10":1.5,"p11":1.6,"p12":1.6},
{"x":0.6046,"p1":1.6,"p2":1.4,"p3":1.4,"p4":1.6,"p5":1.4,"p6":1.4,"p7":1.5,"p8":1.6,"p9":1.4,"p10":1.6,"p11":1.4,"p12":1.5},
{"x":0.6048,"p1":1.5,"p2":1.6,"p3":1.6,"p4":1.5,"p5":1.6,"p6":1.6,"p7":1.7,"p8":1.5,"p9":1.6,"p10":1.5,"p11":1.5,"p12":1.7},
{"x":0.6050,"p1":1.8,"p2":1.8,"p3":1.7,"p4":1.7,"p5":1.8,"p6":1.8,"p7":1.6,"p8":1.7,"p9":1.8,"p10":1.7,"p11":1.8,"p12":2.1},
{"x":0.6052,"p1":1.7,"p2":1.6,"p3":1.8,"p4":1.9,"p5":1.6,"p6":1.6,"p7":1.8,"p8":1.9,"p9":1.6,"p10":1.8,"p11":1.6,"p12":1.8},
{"x":0.6054,"p1":1.9,"p2":1.9,"p3":1.6,"p4":1.6,"p5":1.9,"p6":1.7,"p7":1.7,"p8":1.6,"p9":1.9,"p10":1.7,"p11":1.9,"p12":1.9},
{"x":0.6056,"p1":1.7,"p2":2.0,"p3":1.9,"p4":1.8,"p5":1.7,"p6":1.9,"p7":1.9,"p8":1.8,"p9":1.7,"p10":2.0,"p11":1.7,"p12":1.7},
{"x":0.6058,"p1":2.0,"p2":1.8,"p3":1.7,"p4":2.0,"p5":1.8,"p6":2.0,"p7":1.7,"p8":2.0,"p9":1.9,"p10":1.7,"p11":1.8,"p12":2.0},
{"x":0.6060,"p1":1.8,"p2":2.1,"p3":1.9,"p4":1.7,"p5":2.0,"p6":1.8,"p7":2.0,"p8":1.7,"p9":1.7,"p10":1.9,"p11":2.0,"p12":1.8},
{"x":0.6062,"p1":1.9,"p2":1.9,"p3":1.7,"p4":1.9,"p5":1.7,"p6":2.0,"p7":1.8,"p8":1.9,"p9":1.8,"p10":1.7,"p11":1.7,"p12":1.9},
{"x":0.6064,"p1":1.6,"p2":1.7,"p3":1.6,"p4":1.6,"p5":1.6,"p6":1.7,"p7":1.6,"p8":1.6,"p9":1.6,"p10":1.6,"p11":1.6,"p12":1.7},
{"x":0.6066,"p1":1.5,"p2":1.5,"p3":1.5,"p4":1.5,"p5":1.5,"p6":1.5,"p7":1.5,"p8":1.5,"p9":1.5,"p10":1.5,"p11":1.5,"p12":1.5},
{"x":0.6068,"p1":1.4,"p2":1.6,"p3":1.6,"p4":1.4,"p5":1.6,"p6":1.4,"p7":1.6,"p8":1.4,"p9":1.6,"p10":1.4,"p11":1.6,"p12":1.6},
{"x":0.6070,"p1":1.5,"p2":1.5,"p3":1.4,"p4":1.6,"p5":1.4,"p6":1.5,"p7":1.4,"p8":1.6,"p9":1.4,"p10":1.6,"p11":1.4,"p12":1.4},
{"x":0.6072,"p1":1.4,"p2":1.4,"p3":1.5,"p4":1.5,"p5":1.5,"p6":1.6,"p7":1.5,"p8":1.5,"p9":1.5,"p10":1.5,"p11":1.5,"p12":1.5},
{"x":0.6074,"p1":1.5,"p2":1.7,"p3":1.7,"p4":1.4,"p5":1.6,"p6":1.7,"p7":1.4,"p8":1.4,"p9":1.6,"p10":1.4,"p11":1.7,"p12":1.6},
{"x":0.6076,"p1":1.7,"p2":2.2,"p3":1.6,"p4":1.7,"p5":1.8,"p6":2.1,"p7":1.8,"p8":1.7,"p9":1.7,"p10":1.8,"p11":1.8,"p12":1.7},
{"x":0.6078,"p1":1.5,"p2":1.8,"p3":1.8,"p4":1.5,"p5":1.6,"p6":1.7,"p7":1.6,"p8":1.6,"p9":1.8,"p10":1.6,"p11":1.6,"p12":1.5},
{"x":0.6080,"p1":1.4,"p2":1.5,"p3":1.5,"p4":1.6,"p5":1.5,"p6":1.5,"p7":1.5,"p8":1.5,"p9":1.5,"p10":1.5,"p11":1.5,"p12":1.4},
{"x":0.6082,"p1":1.3,"p2":1.4,"p3":1.4,"p4":1.4,"p5":1.4,"p6":1.4,"p7":1.4,"p8":1.4,"p9":1.4,"p10":1.4,"p11":1.4,"p12":1.5},
{"x":0.6084,"p1":1.4,"p2":1.5,"p3":1.5,"p4":1.5,"p5":1.3,"p6":1.5,"p7":1.5,"p8":1.5,"p9":1.3,"p10":1.5,"p11":1.3,"p12":1.4},
{"x":0.6086,"p1":1.3,"p2":1.4,"p3":1.3,"p4":1.3,"p5":1.4,"p6":1.4,"p7":1.3,"p8":1.3,"p9":1.4,"p10":1.4,"p11":1.4,"p12":1.3},
{"x":0.6088,"p1":1.4,"p2":1.3,"p3":1.4,"p4":1.4,"p5":1.5,"p6":1.5,"p7":1.4,"p8":1.5,"p9":1.5,"p10":1.3,"p11":1.5,"p12":1.4},
{"x":0.6090,"p1":1.3,"p2":1.4,"p3":1.5,"p4":1.3,"p5":1.3,"p6":1.6,"p7":1.5,"p8":1.4,"p9":1.3,"p10":1.4,"p11":1.3,"p12":1.5},
{"x":0.6092,"p1":1.4,"p2":1.5,"p3":1.3,"p4":1.4,"p5":1.4,"p6":1.7,"p7":1.3,"p8":1.3,"p9":1.4,"p10":1.5,"p11":1.4,"p12":1.6},
{"x":0.6094,"p1":1.4,"p2":1.4,"p3":1.4,"p4":1.5,"p5":1.3,"p6":1.5,"p7":1.4,"p8":1.4,"p9":1.3,"p10":1.3,"p11":1.3,"p12":1.4},
{"x":0.6096,"p1":1.3,"p2":1.3,"p3":1.3,"p4":1.3,"p5":1.4,"p6":1.4,"p7":1.3,"p8":1.3,"p9":1.4,"p10":1.4,"p11":1.4,"p12":1.3},
{"x":0.6098,"p1":1.2,"p2":1.4,"p3":1.2,"p4":1.4,"p5":1.2,"p6":1.3,"p7":1.2,"p8":1.4,"p9":1.3,"p10":1.3,"p11":1.2,"p12":1.5},
{"x":0.6100,"p1":1.2,"p2":1.3,"p3":1.2,"p4":1.2,"p5":1.3,"p6":1.2,"p7":1.3,"p8":1.2,"p9":1.2,"p10":1.3,"p11":1.3,"p12":1.3}
]},
"vconcat":[
{"width":767,"height":80,"resolve":{"axis":{"x":"independent","y":"independent"}},"layer":[
{"data":{"name":"d"},"transform":[{"fold":["p1"],"as":["k","v"]}],"mark":{"type":"line","interpolate":"step","color":"black","strokeWidth":1.4},
"encoding":{"x":{"field":"x","type":"quantitative","scale":{"domain":[0.5685,0.6116],"nice":false,"zero":false},"axis":null},
"y":{"field":"v","type":"quantitative","scale":{"domain":[0,14.5],"nice":false,"zero":false},"axis":{"values":[2,4,6,8,10,12,14],"title":null,"labelOverlap":false}}}},
{"data":{"values":[{}]},"mark":{"type":"text","align":"right","baseline":"middle"},"encoding":{"x":{"datum":0.6111,"axis":null},"y":{"datum":11.8,"axis":null},"text":{"value":"Proton bunch 1"}}},
{"data":{"values":[{}]},"mark":{"type":"text","align":"left","baseline":"middle"},"encoding":{"x":{"datum":0.56966,"axis":null},"y":{"datum":12.1,"axis":null},"text":{"value":"Collisions 16:22:15"}}}
]},
{"width":767,"height":80,"resolve":{"axis":{"x":"independent","y":"independent"}},"layer":[
{"data":{"name":"d"},"transform":[{"fold":["p2"],"as":["k","v"]}],"mark":{"type":"line","interpolate":"step","color":"black","strokeWidth":1.4},
"encoding":{"x":{"field":"x","type":"quantitative","scale":{"domain":[0.5685,0.6116],"nice":false,"zero":false},"axis":null},
"y":{"field":"v","type":"quantitative","scale":{"domain":[0,14.5],"nice":false,"zero":false},"axis":null}}},
{"data":{"values":[{}]},"mark":{"type":"text","align":"right","baseline":"middle"},"encoding":{"x":{"datum":0.6111,"axis":null},"y":{"datum":11.8,"axis":null},"text":{"value":"Proton bunch 2"}}}
]},
{"width":767,"height":80,"resolve":{"axis":{"x":"independent","y":"independent"}},"layer":[
{"data":{"name":"d"},"transform":[{"fold":["p3"],"as":["k","v"]}],"mark":{"type":"line","interpolate":"step","color":"black","strokeWidth":1.4},
"encoding":{"x":{"field":"x","type":"quantitative","scale":{"domain":[0.5685,0.6116],"nice":false,"zero":false},"axis":null},
"y":{"field":"v","type":"quantitative","scale":{"domain":[0,14.5],"nice":false,"zero":false},"axis":{"values":[2,4,6,8,10,12,14],"title":null,"labelOverlap":false}}}},
{"data":{"values":[{}]},"mark":{"type":"text","align":"right","baseline":"middle"},"encoding":{"x":{"datum":0.6111,"axis":null},"y":{"datum":11.8,"axis":null},"text":{"value":"Proton bunch 3"}}}
]},
{"width":767,"height":80,"resolve":{"axis":{"x":"independent","y":"independent"}},"layer":[
{"data":{"name":"d"},"transform":[{"fold":["p4"],"as":["k","v"]}],"mark":{"type":"line","interpolate":"step","color":"black","strokeWidth":1.4},
"encoding":{"x":{"field":"x","type":"quantitative","scale":{"domain":[0.5685,0.6116],"nice":false,"zero":false},"axis":null},
"y":{"field":"v","type":"quantitative","scale":{"domain":[0,14.5],"nice":false,"zero":false},"axis":null}}},
{"data":{"values":[{}]},"mark":{"type":"text","align":"right","baseline":"middle"},"encoding":{"x":{"datum":0.6111,"axis":null},"y":{"datum":11.8,"axis":null},"text":{"value":"Proton bunch 4"}}}
]},
{"width":767,"height":80,"resolve":{"axis":{"x":"independent","y":"independent"}},"layer":[
{"data":{"name":"d"},"transform":[{"fold":["p5"],"as":["k","v"]}],"mark":{"type":"line","interpolate":"step","color":"black","strokeWidth":1.4},
"encoding":{"x":{"field":"x","type":"quantitative","scale":{"domain":[0.5685,0.6116],"nice":false,"zero":false},"axis":null},
"y":{"field":"v","type":"quantitative","scale":{"domain":[0,14.5],"nice":false,"zero":false},"axis":{"values":[2,4,6,8,10,12,14],"title":null,"labelOverlap":false}}}},
{"data":{"values":[{}]},"mark":{"type":"text","align":"right","baseline":"middle"},"encoding":{"x":{"datum":0.6111,"axis":null},"y":{"datum":11.8,"axis":null},"text":{"value":"Proton bunch 5"}}}
]},
{"width":767,"height":80,"resolve":{"axis":{"x":"independent","y":"independent"}},"layer":[
{"data":{"name":"d"},"transform":[{"fold":["p6"],"as":["k","v"]}],"mark":{"type":"line","interpolate":"step","color":"black","strokeWidth":1.4},
"encoding":{"x":{"field":"x","type":"quantitative","scale":{"domain":[0.5685,0.6116],"nice":false,"zero":false},"axis":null},
"y":{"field":"v","type":"quantitative","scale":{"domain":[0,14.5],"nice":false,"zero":false},"axis":null}}},
{"data":{"values":[{}]},"mark":{"type":"text","align":"right","baseline":"middle"},"encoding":{"x":{"datum":0.6111,"axis":null},"y":{"datum":11.8,"axis":null},"text":{"value":"Proton bunch 6"}}}
]},
{"width":767,"height":80,"resolve":{"axis":{"x":"independent","y":"independent"}},"layer":[
{"data":{"name":"d"},"transform":[{"fold":["p7"],"as":["k","v"]}],"mark":{"type":"line","interpolate":"step","color":"black","strokeWidth":1.4},
"encoding":{"x":{"field":"x","type":"quantitative","scale":{"domain":[0.5685,0.6116],"nice":false,"zero":false},"axis":null},
"y":{"field":"v","type":"quantitative","scale":{"domain":[0,14.5],"nice":false,"zero":false},"axis":{"values":[2,4,6,8,10,12,14],"title":"Signal/background amplitude","titleY":-15,"titlePadding":10,"labelOverlap":false}}}},
{"data":{"values":[{}]},"mark":{"type":"text","align":"right","baseline":"middle"},"encoding":{"x":{"datum":0.6111,"axis":null},"y":{"datum":11.8,"axis":null},"text":{"value":"Proton bunch 7"}}}
]},
{"width":767,"height":80,"resolve":{"axis":{"x":"independent","y":"independent"}},"layer":[
{"data":{"name":"d"},"transform":[{"fold":["p8"],"as":["k","v"]}],"mark":{"type":"line","interpolate":"step","color":"black","strokeWidth":1.4},
"encoding":{"x":{"field":"x","type":"quantitative","scale":{"domain":[0.5685,0.6116],"nice":false,"zero":false},"axis":null},
"y":{"field":"v","type":"quantitative","scale":{"domain":[0,14.5],"nice":false,"zero":false},"axis":null}}},
{"data":{"values":[{}]},"mark":{"type":"text","align":"right","baseline":"middle"},"encoding":{"x":{"datum":0.6111,"axis":null},"y":{"datum":11.8,"axis":null},"text":{"value":"Proton bunch 8"}}}
]},
{"width":767,"height":80,"resolve":{"axis":{"x":"independent","y":"independent"}},"layer":[
{"data":{"name":"d"},"transform":[{"fold":["p9"],"as":["k","v"]}],"mark":{"type":"line","interpolate":"step","color":"black","strokeWidth":1.4},
"encoding":{"x":{"field":"x","type":"quantitative","scale":{"domain":[0.5685,0.6116],"nice":false,"zero":false},"axis":null},
"y":{"field":"v","type":"quantitative","scale":{"domain":[0,14.5],"nice":false,"zero":false},"axis":{"values":[2,4,6,8,10,12,14],"title":null,"labelOverlap":false}}}},
{"data":{"values":[{}]},"mark":{"type":"text","align":"right","baseline":"middle"},"encoding":{"x":{"datum":0.6111,"axis":null},"y":{"datum":11.8,"axis":null},"text":{"value":"Proton bunch 9"}}}
]},
{"width":767,"height":80,"resolve":{"axis":{"x":"independent","y":"independent"}},"layer":[
{"data":{"name":"d"},"transform":[{"fold":["p10"],"as":["k","v"]}],"mark":{"type":"line","interpolate":"step","color":"black","strokeWidth":1.4},
"encoding":{"x":{"field":"x","type":"quantitative","scale":{"domain":[0.5685,0.6116],"nice":false,"zero":false},"axis":null},
"y":{"field":"v","type":"quantitative","scale":{"domain":[0,14.5],"nice":false,"zero":false},"axis":null}}},
{"data":{"values":[{}]},"mark":{"type":"text","align":"right","baseline":"middle"},"encoding":{"x":{"datum":0.6111,"axis":null},"y":{"datum":11.8,"axis":null},"text":{"value":"Proton bunch 10"}}}
]},
{"width":767,"height":80,"resolve":{"axis":{"x":"independent","y":"independent"}},"layer":[
{"data":{"name":"d"},"transform":[{"fold":["p11"],"as":["k","v"]}],"mark":{"type":"line","interpolate":"step","color":"black","strokeWidth":1.4},
"encoding":{"x":{"field":"x","type":"quantitative","scale":{"domain":[0.5685,0.6116],"nice":false,"zero":false},"axis":null},
"y":{"field":"v","type":"quantitative","scale":{"domain":[0,14.5],"nice":false,"zero":false},"axis":{"values":[2,4,6,8,10,12,14],"title":null,"labelOverlap":false}}}},
{"data":{"values":[{}]},"mark":{"type":"text","align":"right","baseline":"middle"},"encoding":{"x":{"datum":0.6111,"axis":null},"y":{"datum":11.8,"axis":null},"text":{"value":"Proton bunch 11"}}}
]},
{"width":767,"height":80,"resolve":{"axis":{"x":"independent","y":"independent"}},"layer":[
{"data":{"name":"d"},"transform":[{"fold":["p12"],"as":["k","v"]}],"mark":{"type":"line","interpolate":"step","color":"black","strokeWidth":1.4},
"encoding":{"x":{"field":"x","type":"quantitative","scale":{"domain":[0.5685,0.6116],"nice":false,"zero":false},"axis":{"values":[0.57,0.58,0.59,0.6,0.61],"format":".2f","title":"Fractional tune","labelPadding":11,"titlePadding":6,"labelFlush":false}},
"y":{"field":"v","type":"quantitative","scale":{"domain":[0,14.5],"nice":false,"zero":false},"axis":null}}},
{"data":{"values":[{}]},"mark":{"type":"text","align":"right","baseline":"middle"},"encoding":{"x":{"datum":0.6111,"axis":null},"y":{"datum":11.8,"axis":null},"text":{"value":"Proton bunch 12"}}},
{"data":{"values":[{}]},"mark":{"type":"rule","color":"black","strokeWidth":1.2},"encoding":{"x":{"datum":0.582604,"axis":null},"y":{"datum":11.78,"axis":null},"x2":{"datum":0.583222},"y2":{"datum":9.43}}},
{"data":{"values":[{}]},"mark":{"type":"rule","color":"black","strokeWidth":1.2},"encoding":{"x":{"datum":0.58316,"axis":null},"y":{"datum":10.49,"axis":null},"x2":{"datum":0.583222},"y2":{"datum":9.43}}},
{"data":{"values":[{}]},"mark":{"type":"rule","color":"black","strokeWidth":1.2},"encoding":{"x":{"datum":0.582902,"axis":null},"y":{"datum":9.79,"axis":null},"x2":{"datum":0.583222},"y2":{"datum":9.43}}}
]}
]
}
